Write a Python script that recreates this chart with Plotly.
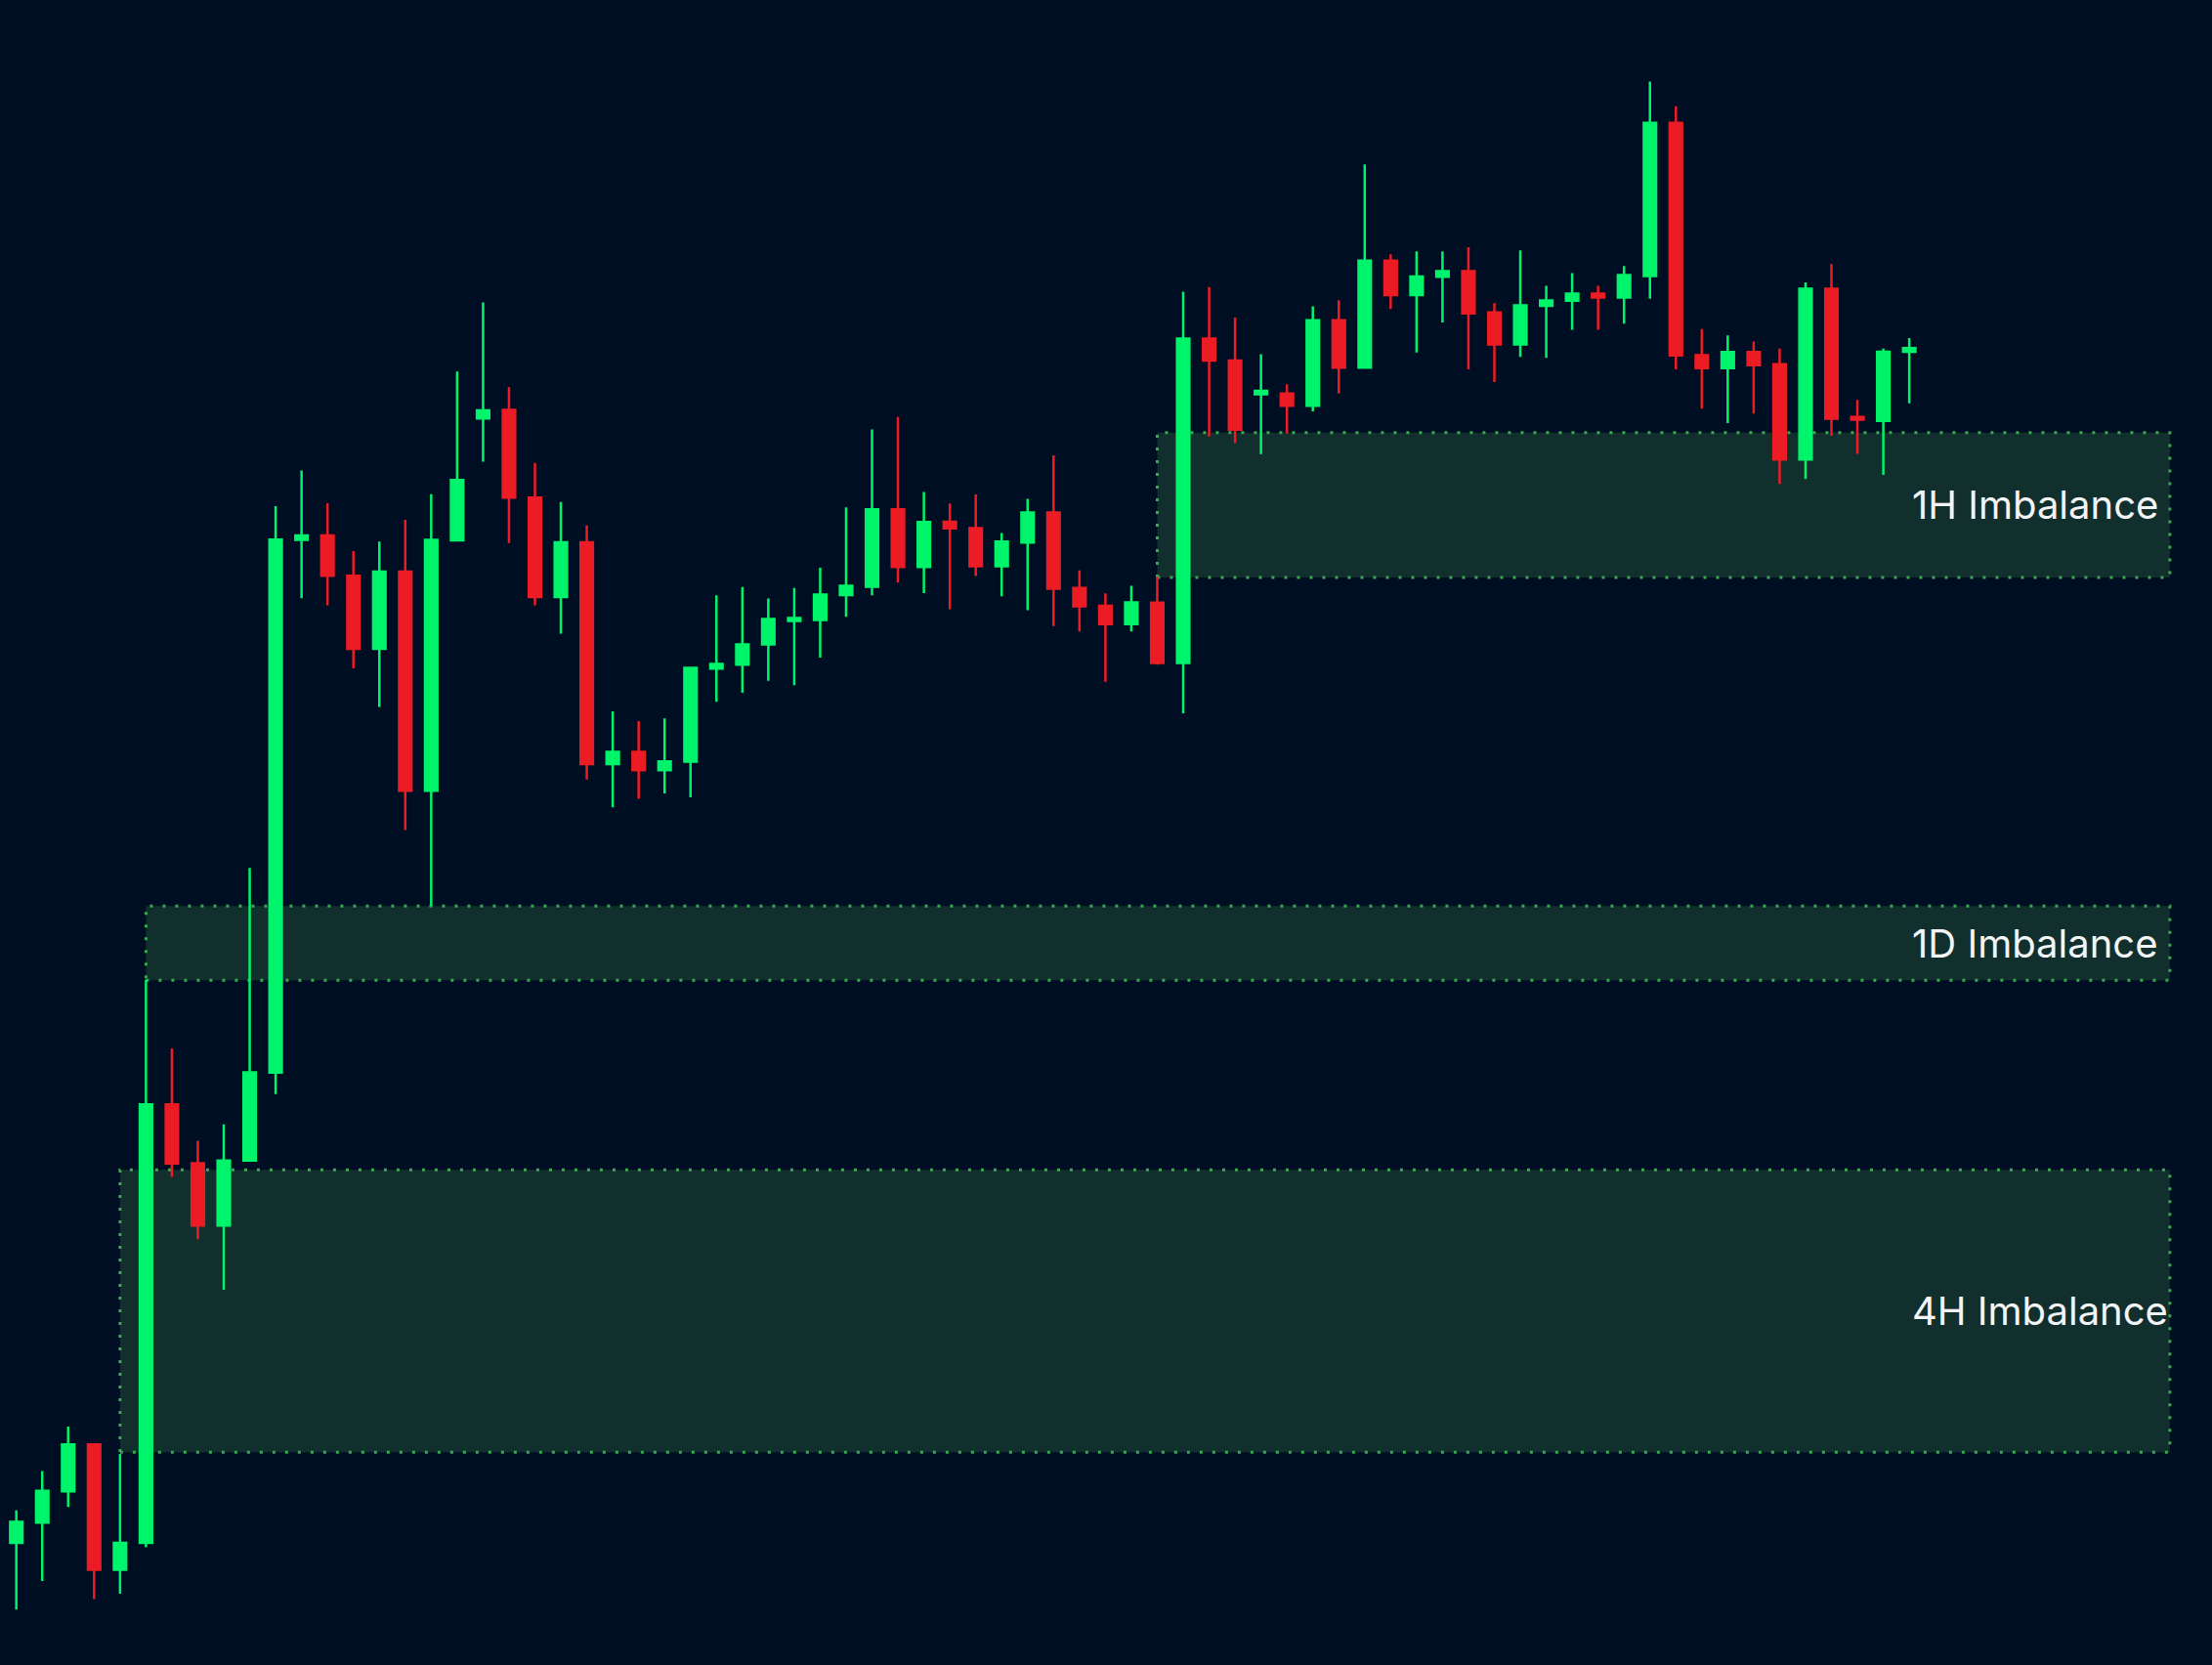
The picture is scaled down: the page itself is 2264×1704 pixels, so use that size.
"""
Candlestick chart with 4H / 1D / 1H imbalance zones
"""

import plotly.graph_objects as go

# OHLC (arbitrary price units), one entry per candle
opens = [137.5, 86.5, 100.9, 123.1, 156.4, 67.6, 86.5, 397.3, 355.7, 311.4,
         357.5, 419.9, 797.5, 800.5, 772.0, 720.2, 775.0, 619.7, 797.2, 883.5,
         889.5, 827.5, 757.0, 795.7, 638.6, 647.1, 634.2, 640.2, 706.2, 709.0,
         723.3, 739.9, 740.6, 758.4, 764.2, 819.1, 778.2, 810.2, 805.8, 778.8,
         795.6, 816.9, 763.3, 750.8, 737.7, 752.9, 710.2, 940.2, 924.5, 900.7,
         901.2, 892.5, 953.1, 919.5, 995.3, 970.9, 983.9, 987.9, 958.6, 936.0,
         963.4, 966.9, 972.0, 969.2, 984.4, 1093.0, 928.3, 919.1, 930.6, 921.9,
         854.5, 975.5, 884.5, 881.7, 930.7]
highs = [137.5, 109.6, 137.5, 169.0, 156.4, 149.6, 485.7, 437.0, 371.6, 383.2,
         565.0, 821.4, 846.6, 823.4, 789.5, 796.3, 811.7, 829.8, 916.7, 965.7,
         905.6, 852.0, 824.3, 807.7, 676.0, 669.0, 670.9, 707.1, 758.2, 764.0,
         755.9, 763.3, 777.8, 820.5, 875.7, 884.5, 831.4, 823.3, 829.6, 802.3,
         826.6, 857.3, 775.8, 759.6, 764.9, 771.4, 973.3, 976.7, 955.0, 929.0,
         907.8, 962.9, 967.4, 1063.6, 999.8, 1001.9, 1001.9, 1004.9, 965.3, 1002.7,
         977.5, 986.5, 977.5, 991.6, 1122.3, 1104.7, 946.8, 942.3, 938.0, 933.0,
         979.9, 993.0, 896.7, 933.0, 940.4]
lows = [86.5, 39.3, 59.5, 112.0, 46.8, 50.5, 83.5, 346.0, 301.8, 266.0,
        357.5, 404.7, 756.1, 751.0, 706.4, 679.1, 591.7, 538.0, 797.2, 852.9,
        795.2, 751.0, 731.0, 627.7, 607.8, 613.9, 617.8, 615.0, 682.7, 689.1,
        697.5, 694.5, 714.1, 742.9, 758.2, 767.2, 759.8, 748.3, 771.8, 757.5,
        747.6, 736.3, 732.6, 696.8, 732.6, 709.0, 674.5, 870.7, 866.0, 858.3,
        872.8, 888.5, 901.2, 919.5, 961.1, 930.3, 951.5, 918.4, 909.4, 927.2,
        926.5, 946.3, 946.3, 950.7, 968.3, 918.4, 890.5, 880.3, 887.0, 837.1,
        840.6, 871.3, 858.4, 843.6, 894.2]
closes = [86.5, 101.5, 123.4, 156.4, 67.6, 86.5, 397.3, 355.4, 311.4, 357.6,
          420.0, 797.7, 800.5, 772.0, 720.2, 775.0, 619.7, 797.5, 839.8, 889.3,
          827.5, 757.0, 795.7, 638.6, 647.2, 634.2, 640.4, 706.7, 709.5, 723.3,
          741.3, 742.0, 758.6, 764.9, 819.1, 778.2, 810.1, 805.6, 778.8, 796.3,
          816.9, 762.8, 750.4, 737.7, 753.1, 710.2, 940.2, 924.5, 875.5, 903.0,
          892.5, 953.1, 919.5, 995.3, 970.9, 984.1, 987.9, 958.0, 936.0, 963.7,
          967.1, 972.0, 969.2, 985.1, 1093.0, 928.1, 919.1, 930.6, 921.3, 854.4,
          975.5, 883.3, 882.6, 930.7, 933.4]

# imbalance zones: label, first candle, price range
zone_labels = ["4H Imbalance", "1D Imbalance", "1H Imbalance"]
zone_start = [5, 6, 45]
zone_end = [84.05, 84.05, 84.05]
zone_low = [150.8, 485.3, 770.8]
zone_high = [351.0, 538.0, 873.4]

BG = "#000e24"
GREEN = "#00f46b"
RED = "#ec1c24"

candle_x = list(range(len(opens)))

fig = go.Figure(go.Candlestick(
    x=candle_x, open=opens, high=highs, low=lows, close=closes,
    increasing=dict(line=dict(color=GREEN, width=2.5), fillcolor=GREEN),
    decreasing=dict(line=dict(color=RED, width=2.5), fillcolor=RED),
    hoverinfo="none",
))

for lab, x0, x1, lo, hi in zip(zone_labels, zone_start, zone_end, zone_low, zone_high):
    fig.add_shape(type="rect", x0=x0, x1=x1, y0=lo, y1=hi, layer="below",
                  fillcolor="#112f2d",
                  line=dict(color="#3aa84e", width=3, dash="3px,10px"))
    fig.add_annotation(x=1955 / 2264, xref="paper", y=(lo + hi) / 2, yref="y",
                       text=lab, showarrow=False, xanchor="left", yanchor="middle",
                       font=dict(family="Inter", size=40, color="#f2f4f5"))

fig.update_layout(
    width=2264, height=1704,
    margin=dict(l=0, r=0, t=0, b=0),
    paper_bgcolor=BG, plot_bgcolor=BG,
    showlegend=False, boxgap=0.32,
    xaxis=dict(range=[0.371, 85.675], visible=False, showgrid=False,
               rangeslider=dict(visible=False), fixedrange=True),
    yaxis=dict(range=[0, 1180.1], visible=False, showgrid=False, fixedrange=True),
)

# drop the default page margin so the chart fills the window
fig.write_html("out.html", config={"displayModeBar": False},
               post_script="document.body.style.margin='0';document.body.style.overflow='hidden';")
